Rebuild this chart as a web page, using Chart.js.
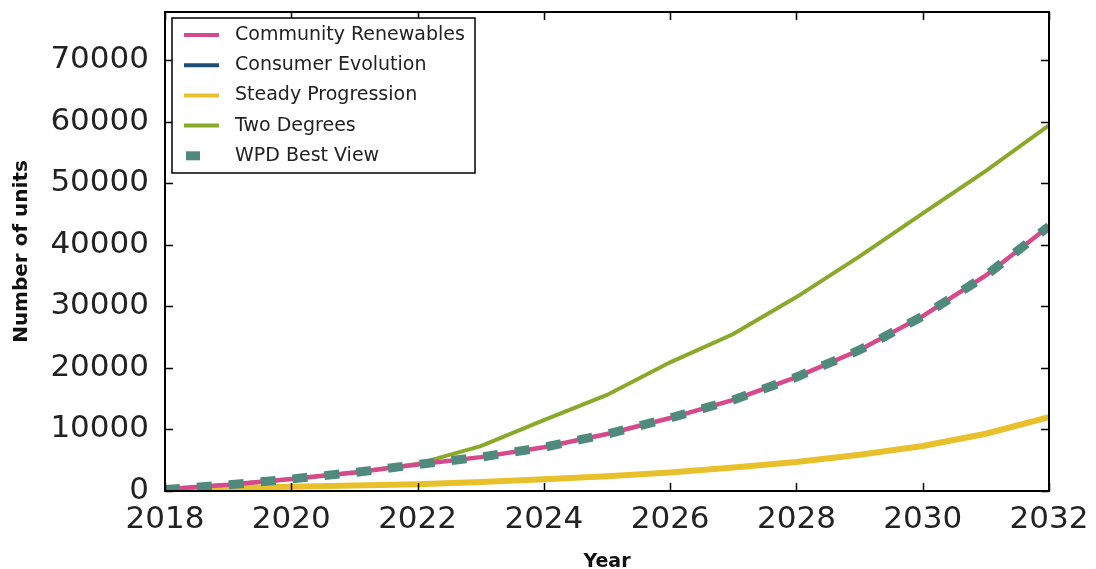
<!DOCTYPE html>
<html>
<head>
<meta charset="utf-8">
<script src="https://cdn.jsdelivr.net/npm/chart.js@4"></script>
<style>
  html, body { margin: 0; padding: 0; background: #fff; }
  #wrap { width: 1096px; height: 569px; }
</style>
</head>
<body>
<div id="wrap"><canvas id="myChart" width="1096" height="569"></canvas></div>
<script>
// Data
let years = [2018, 2019, 2020, 2021, 2022, 2023, 2024, 2025, 2026, 2027, 2028, 2029, 2030, 2031, 2032];
let communityRenewables = [300, 1000, 1950, 3000, 4300, 5500, 7100, 9250, 11850, 14800, 18500, 22900, 28400, 35000, 43000];
let consumerEvolution = [200, 500, 700, 900, 1100, 1450, 1900, 2400, 3000, 3800, 4700, 5900, 7300, 9300, 12000];
let steadyProgression = [200, 500, 700, 900, 1100, 1450, 1900, 2400, 3000, 3800, 4700, 5900, 7300, 9300, 12000];
let twoDegrees = [300, 1000, 1950, 3000, 4400, 7300, 11500, 15600, 20900, 25500, 31500, 38100, 45100, 52000, 59400];
let wpdBestView = [250, 1000, 1950, 3000, 4300, 5500, 7100, 9250, 11850, 14800, 18500, 22900, 28400, 35000, 43000];

let xTicks = [2018, 2020, 2022, 2024, 2026, 2028, 2030, 2032];
let yTicks = [0, 10000, 20000, 30000, 40000, 50000, 60000, 70000];

let seriesNames = ['Community Renewables', 'Consumer Evolution', 'Steady Progression', 'Two Degrees', 'WPD Best View'];
let seriesColors = ['#d6498c', '#1d4e74', '#e8c02c', '#8aa829', '#4f8a7c'];

function pts(vals) {
    return years.map((y, i) => ({ x: y, y: vals[i] }));
}

// Frame, inward ticks and boxed legend like the original
let frameAndLegend = {
    id: 'frameAndLegend',
    afterDraw(chart) {
        let ctx = chart.ctx;
        let a = chart.chartArea;
        let xs = chart.scales.x, ys = chart.scales.y;
        ctx.save();
        ctx.strokeStyle = '#000';
        ctx.lineWidth = 1.5;
        xTicks.forEach(t => {
            let px = Math.round(xs.getPixelForValue(t)) + 0.5;
            ctx.beginPath();
            ctx.moveTo(px, a.bottom); ctx.lineTo(px, a.bottom - 8);
            ctx.moveTo(px, a.top); ctx.lineTo(px, a.top + 8);
            ctx.stroke();
        });
        yTicks.forEach(t => {
            let py = Math.round(ys.getPixelForValue(t)) + 0.5;
            ctx.beginPath();
            ctx.moveTo(a.left, py); ctx.lineTo(a.left + 8, py);
            ctx.moveTo(a.right, py); ctx.lineTo(a.right - 8, py);
            ctx.stroke();
        });
        ctx.lineWidth = 2;
        ctx.strokeRect(a.left, a.top, a.right - a.left, a.bottom - a.top);

        // legend
        let lx = 172, ly = 18, lw = 303, lh = 155;
        ctx.fillStyle = '#fff';
        ctx.fillRect(lx, ly, lw, lh);
        ctx.lineWidth = 1.5;
        ctx.strokeRect(lx, ly, lw, lh);
        ctx.font = '19px "DejaVu Sans"';
        ctx.textBaseline = 'middle';
        seriesNames.forEach((name, i) => {
            let ry = 35 + i * 30.2;
            ctx.strokeStyle = seriesColors[i];
            ctx.lineCap = 'butt';
            ctx.beginPath();
            if (i === 4) {
                ctx.lineWidth = 9;
                ctx.moveTo(186, ry); ctx.lineTo(200, ry);
            } else {
                ctx.lineWidth = 4;
                ctx.moveTo(184, ry); ctx.lineTo(219, ry);
            }
            ctx.stroke();
            ctx.fillStyle = '#222';
            ctx.fillText(name, 235, ry);
        });
        ctx.restore();
    }
};

let myChart = document.getElementById('myChart').getContext('2d');

let chart = new Chart(myChart, {
    type: 'line',
    data: {
        datasets: [
            {
                label: 'WPD Best View',
                data: pts(wpdBestView),
                borderColor: seriesColors[4],
                borderWidth: 9,
                borderDash: [15, 17]
            },
            {
                label: 'Community Renewables',
                data: pts(communityRenewables),
                borderColor: seriesColors[0],
                borderWidth: 4.5
            },
            {
                label: 'Two Degrees',
                data: pts(twoDegrees),
                borderColor: seriesColors[3],
                borderWidth: 4
            },
            {
                label: 'Steady Progression',
                data: pts(steadyProgression),
                borderColor: seriesColors[2],
                borderWidth: 6
            },
            {
                label: 'Consumer Evolution',
                data: pts(consumerEvolution),
                borderColor: seriesColors[1],
                borderWidth: 4
            }
        ]
    },
    options: {
        responsive: false,
        animation: false,
        layout: { padding: { left: 0, right: 47, top: 12, bottom: 0 } },
        elements: { point: { radius: 0 }, line: { tension: 0 } },
        plugins: {
            legend: { display: false },
            tooltip: { enabled: false }
        },
        scales: {
            x: {
                type: 'linear',
                min: 2018,
                max: 2032,
                grid: { display: false },
                border: { display: false },
                afterFit(scale) { scale.height = 78; },
                afterBuildTicks(scale) { scale.ticks = xTicks.map(v => ({ value: v })); },
                ticks: {
                    padding: 2,
                    maxRotation: 0,
                    color: '#222',
                    font: { family: 'DejaVu Sans', size: 31 },
                    callback: v => String(v)
                },
                title: {
                    display: true,
                    text: 'Year',
                    color: '#111',
                    padding: { top: 0, bottom: -4 },
                    font: { family: 'DejaVu Sans', size: 19, weight: 'bold' }
                }
            },
            y: {
                min: 0,
                max: 77800,
                grid: { display: false },
                border: { display: false },
                afterFit(scale) { scale.width = 165; scale.paddingTop = 0; },
                afterBuildTicks(scale) { scale.ticks = yTicks.map(v => ({ value: v })); },
                ticks: {
                    padding: 8,
                    color: '#222',
                    font: { family: 'DejaVu Sans', size: 31 },
                    callback: v => String(v)
                },
                title: {
                    display: true,
                    text: 'Number of units',
                    color: '#111',
                    padding: { top: 10, bottom: 0 },
                    font: { family: 'DejaVu Sans', size: 20, weight: 'bold' }
                }
            }
        }
    },
    plugins: [frameAndLegend]
});
</script>
</body>
</html>
